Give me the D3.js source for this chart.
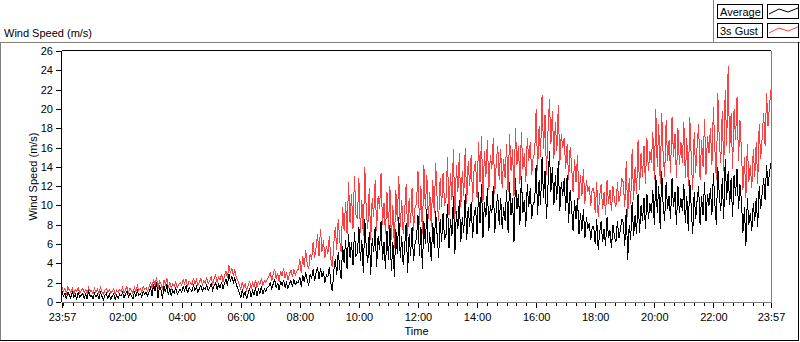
<!DOCTYPE html>
<html>
<head>
<meta charset="utf-8">
<script src="https://cdn.jsdelivr.net/npm/d3@7"></script>
<style>
body { margin: 0; background: #ffffff; }
svg { display: block; font-family: "Liberation Sans", Arial, sans-serif; font-size: 11px; }
.axis path { display: none; }
.axis line { stroke: #000000; shape-rendering: crispEdges; }
.axis text { fill: #000000; font-family: "Liberation Sans", Arial, sans-serif; font-size: 11px; }
</style>
</head>
<body>
<svg></svg>
<script>

// 3 minute samples from 23:57 to 23:57 next day (20 per hour, one row per hour)
var avgSpeed = [
    1.1,0.6,0.9,0.3,1.0,0.7,0.4,1.1,0.5,0.8,0.3,1.0,0.5,0.7,0.9,0.4,0.8,0.3,1.2,0.6,
    0.7,0.3,0.9,0.5,0.8,0.3,1.0,0.6,0.2,0.7,0.9,0.4,0.8,0.3,0.6,0.9,0.3,0.7,0.4,0.8,
    0.6,1.0,0.4,0.8,1.1,0.5,0.9,0.7,0.3,1.0,0.6,1.2,0.7,0.9,0.5,1.1,0.8,1.0,0.6,1.1,
    1.5,0.6,1.9,1.1,2.1,0.4,1.6,1.3,0.3,1.7,1.0,1.9,0.7,1.4,0.6,1.2,0.9,1.5,0.8,1.1,
    1.3,1.0,1.6,1.2,1.7,0.9,1.5,1.3,1.1,1.8,1.2,1.6,1.0,1.4,1.7,1.1,1.5,1.3,1.8,1.2,
    1.5,1.9,1.2,1.7,2.0,1.3,1.8,1.5,2.1,1.4,1.9,2.4,1.7,2.9,2.2,2.6,2.0,2.5,1.8,1.4,
    1.0,0.4,1.3,0.6,1.1,0.3,0.9,1.4,0.5,1.2,0.7,1.5,0.6,1.3,0.9,1.6,0.8,1.4,1.1,1.5,
    1.6,2.1,1.3,1.9,2.3,1.5,2.0,1.2,2.2,1.7,2.3,1.5,2.0,1.4,1.9,2.2,1.6,2.3,1.8,2.1,
    2.0,2.6,1.6,2.8,2.1,3.1,2.3,1.7,2.9,2.4,3.4,2.2,3.0,3.6,2.4,3.5,2.6,3.2,2.0,2.8,
    2.6,3.6,2.0,1.1,3.2,4.4,2.8,5.2,3.6,2.4,5.8,4.0,6.4,3.4,7.0,4.6,6.2,3.8,7.2,4.8,
    5.0,7.8,4.2,6.4,3.0,8.6,5.6,4.0,7.2,2.8,6.6,5.2,7.8,3.6,6.8,5.4,8.4,4.4,6.2,3.4,
    7.4,4.4,8.0,3.2,6.2,2.6,7.6,5.0,8.8,4.6,6.8,3.8,5.8,8.2,3.0,7.0,4.8,7.8,4.2,6.0,
    6.6,9.0,4.8,7.8,3.4,8.4,6.0,9.6,5.2,7.2,4.2,8.2,5.6,9.4,6.8,4.6,8.6,6.2,9.2,6.4,
    7.0,10.2,5.6,8.6,6.8,11.0,5.0,9.4,7.6,10.6,6.2,8.8,7.2,11.2,6.4,9.8,7.8,10.4,6.6,9.0,
    9.8,7.0,11.4,8.2,12.2,6.6,10.4,8.8,11.8,7.4,10.0,9.2,12.0,7.2,9.6,11.2,8.0,10.8,7.6,9.8,
    8.4,11.6,7.2,12.4,9.0,10.8,6.2,12.8,9.6,11.2,8.0,13.0,9.2,10.6,7.8,12.2,9.8,11.8,8.6,10.2,
    10.4,14.2,9.0,12.6,10.0,15.0,10.8,13.6,8.6,12.0,15.6,11.4,14.0,10.0,13.2,10.6,14.6,9.4,12.4,11.0,
    12.8,9.4,13.2,8.2,11.6,9.8,7.4,10.6,8.6,10.8,7.0,9.2,7.4,9.6,6.6,8.8,7.6,8.2,6.4,7.8,
    7.8,6.0,8.6,5.4,7.2,8.4,6.2,7.6,5.8,8.8,6.6,7.4,5.6,8.0,6.8,6.2,8.4,6.6,7.4,8.6,
    8.2,5.8,9.6,4.4,8.0,6.4,10.4,6.8,9.0,7.0,11.2,7.2,10.0,8.4,10.8,7.6,11.2,8.6,10.2,9.2,
    11.6,8.0,13.2,9.2,12.0,7.6,13.6,10.0,8.4,12.4,9.6,11.0,8.6,12.8,9.8,11.4,8.0,12.0,9.2,10.8,
    9.4,12.2,8.2,11.0,7.4,12.6,9.8,7.0,11.4,8.6,10.6,12.0,8.0,11.0,9.0,12.4,8.4,11.2,10.0,11.8,
    9.0,13.4,10.2,8.0,14.0,11.0,9.4,12.8,8.6,14.8,10.6,13.6,10.0,12.8,8.8,13.2,11.0,13.8,9.6,12.2,
    10.4,7.2,9.8,5.8,10.8,8.0,9.2,7.4,10.2,8.4,10.8,7.8,12.0,9.6,11.2,12.8,10.6,14.2,12.0,13.4,
    14.4
];

var gustSpeed = [
    1.5,1.1,1.4,0.9,1.6,1.2,1.0,1.4,0.8,1.3,1.1,1.5,0.9,1.2,1.4,1.0,1.3,0.9,1.5,1.1,
    1.2,0.8,1.4,1.0,1.3,0.9,1.5,1.1,0.8,1.2,1.4,1.0,1.3,0.9,1.1,1.4,0.8,1.2,1.0,1.3,
    1.1,1.5,0.9,1.3,1.6,1.0,1.4,1.2,0.9,1.5,1.1,1.7,1.2,1.4,1.0,1.6,1.3,1.5,1.1,1.6,
    2.0,1.4,2.4,1.7,2.6,1.3,2.2,1.9,1.2,2.3,1.8,2.5,1.5,2.0,1.4,1.9,1.6,2.1,1.5,1.8,
    2.0,1.7,2.3,1.9,2.4,1.6,2.2,2.0,1.8,2.5,1.9,2.3,1.7,2.1,2.4,1.8,2.2,2.0,2.5,1.9,
    2.2,2.6,1.9,2.4,2.8,2.0,2.6,2.3,2.9,2.1,2.7,3.2,2.5,3.8,3.0,3.5,2.8,3.3,2.6,2.2,
    1.8,1.3,2.1,1.5,1.9,1.2,1.7,2.2,1.4,2.0,1.6,2.3,1.5,2.1,1.8,2.5,1.7,2.2,2.0,2.4,
    2.6,3.1,2.2,2.9,3.4,2.4,3.0,2.1,3.2,2.7,3.5,2.5,3.1,2.3,2.9,3.3,2.6,3.4,2.8,3.2,
    3.4,4.4,3.0,4.8,3.6,5.4,4.0,3.4,5.0,4.4,6.2,4.6,5.6,7.0,4.8,7.6,5.2,6.4,4.6,5.8,
    5.0,6.8,4.4,3.6,6.0,7.8,5.4,8.6,6.4,5.2,9.8,7.4,10.4,7.0,12.4,8.2,11.2,7.6,13.0,9.0,
    8.6,12.8,7.2,10.6,6.8,14.0,9.4,7.6,11.8,6.4,10.8,8.8,12.6,7.4,11.0,9.6,13.4,8.0,10.2,7.0,
    11.4,7.6,12.0,6.4,10.0,5.6,11.6,8.4,13.0,7.8,10.6,7.0,9.4,12.2,6.8,10.8,8.2,11.8,7.4,9.8,
    10.2,13.6,8.0,12.0,7.0,14.2,9.6,13.2,8.6,11.4,7.8,12.6,9.2,14.4,10.6,8.4,12.8,9.8,13.4,10.0,
    10.8,15.0,9.0,13.4,10.6,15.8,8.6,14.2,11.4,15.4,9.8,13.6,11.0,16.0,10.2,14.6,12.0,15.2,10.4,13.8,
    14.6,10.8,16.6,12.4,17.2,10.4,15.6,13.0,16.8,11.6,15.2,13.8,17.0,11.2,14.4,16.2,12.6,15.8,11.8,14.8,
    12.8,16.4,11.4,17.4,13.6,15.8,11.0,18.0,14.2,16.2,12.2,17.6,13.8,15.4,12.4,17.0,14.6,16.6,13.2,15.0,
    15.4,20.0,13.6,18.2,15.0,21.4,15.8,19.4,13.2,17.6,21.0,16.4,19.8,14.8,18.6,15.6,20.4,14.2,17.4,16.0,
    17.0,13.8,16.4,12.6,16.0,14.2,11.4,14.8,12.4,15.2,10.6,13.2,11.0,13.8,10.2,12.6,11.4,12.0,10.0,11.8,
    11.8,9.2,12.4,8.8,11.0,12.2,9.6,11.4,9.0,12.6,10.2,11.6,9.4,12.0,10.6,9.8,12.4,10.4,11.2,12.8,
    12.4,9.8,14.6,8.8,12.8,10.2,15.8,10.6,14.0,11.2,16.8,11.6,15.4,13.0,16.2,12.2,17.0,13.6,15.6,14.4,
    17.6,12.6,20.0,14.0,18.4,12.2,19.6,15.2,13.0,18.8,14.6,16.8,13.4,19.2,15.0,17.4,12.8,18.0,14.2,16.6,
    14.4,18.6,12.8,17.0,12.0,19.2,15.0,11.6,17.6,13.4,16.2,18.4,12.6,16.8,14.0,19.0,13.2,17.2,15.4,18.0,
    14.2,20.2,15.8,12.6,21.6,16.6,14.4,19.8,13.6,22.0,16.2,24.4,15.4,19.6,13.8,20.0,16.8,21.2,14.6,18.8,
    15.6,11.6,15.0,10.8,16.4,12.4,14.2,11.8,15.8,13.0,16.6,12.2,18.4,14.8,17.0,19.6,16.2,21.6,18.2,20.4,
    22.0
];

var seriesNames = ["Average", "3s Gust"];
var seriesColors = ["#000000", "#ff3f3f"];
var yTicks = [0,2,4,6,8,10,12,14,16,18,20,22,24,26];
var startTime = new Date(2020, 0, 1, 23, 57);
var endTime = new Date(2020, 0, 2, 23, 57);
var stepMinutes = 3;

var width = 800, height = 342;
var margin = { top: 51, right: 29, bottom: 40, left: 62 };
var chartWidth = width - margin.left - margin.right,
    chartHeight = height - margin.top - margin.bottom;

var svg = d3.select('svg').attr('width', width).attr('height', height);

var x = d3.scaleTime().range([0, chartWidth]).domain([startTime, endTime]);
var y = d3.scaleLinear().range([chartHeight, 0]).domain([0, 26]);

var fmt = d3.timeFormat("%H:%M");

// panel frames
svg.append('line').attr('x1', 0).attr('x2', width).attr('y1', 42.5).attr('y2', 42.5)
    .attr('stroke', '#808080').attr('shape-rendering', 'crispEdges');
svg.append('line').attr('x1', 0.5).attr('x2', 0.5).attr('y1', 42).attr('y2', 341)
    .attr('stroke', '#808080').attr('shape-rendering', 'crispEdges');
svg.append('line').attr('x1', 0).attr('x2', 799).attr('y1', 340.5).attr('y2', 340.5)
    .attr('stroke', '#000000').attr('shape-rendering', 'crispEdges');
svg.append('line').attr('x1', 798.5).attr('x2', 798.5).attr('y1', 42).attr('y2', 341)
    .attr('stroke', '#000000').attr('shape-rendering', 'crispEdges');
svg.append('line').attr('x1', 713.5).attr('x2', 713.5).attr('y1', 0).attr('y2', 42)
    .attr('stroke', '#808080').attr('shape-rendering', 'crispEdges');

svg.append('text').attr('x', 4).attr('y', 37).text('Wind Speed (m/s)');

var g = svg.append('g').attr('transform', 'translate(' + margin.left + ',' + margin.top + ')');

// data lines
var makeLine = function(values)
{
    return d3.line()
        .x(function(d, i) { return x(d3.timeMinute.offset(startTime, i*stepMinutes)); })
        .y(function(d) { return y(d); })(values);
}

g.append('path').attr('d', makeLine(gustSpeed))
    .attr('fill', 'none').attr('stroke', seriesColors[1]).attr('stroke-width', 1)
    .attr('shape-rendering', 'crispEdges');
g.append('path').attr('d', makeLine(avgSpeed))
    .attr('fill', 'none').attr('stroke', seriesColors[0]).attr('stroke-width', 1)
    .attr('shape-rendering', 'crispEdges');

// plot frame: black top/left, gray bottom/right
g.append('line').attr('x1', -0.5).attr('x2', chartWidth).attr('y1', -0.5).attr('y2', -0.5)
    .attr('stroke', '#000000').attr('shape-rendering', 'crispEdges');
g.append('line').attr('x1', -0.5).attr('x2', -0.5).attr('y1', -0.5).attr('y2', chartHeight)
    .attr('stroke', '#000000').attr('shape-rendering', 'crispEdges');
g.append('line').attr('x1', -0.5).attr('x2', chartWidth + 1).attr('y1', chartHeight + 0.5).attr('y2', chartHeight + 0.5)
    .attr('stroke', '#808080').attr('shape-rendering', 'crispEdges');
g.append('line').attr('x1', chartWidth + 0.5).attr('x2', chartWidth + 0.5).attr('y1', -0.5).attr('y2', chartHeight + 1)
    .attr('stroke', '#808080').attr('shape-rendering', 'crispEdges');

// axes
var yAxis = g.append('g').attr('class', 'axis')
    .attr('transform', 'translate(-1,0)')
    .call(d3.axisLeft(y).tickValues(yTicks).tickSize(5).tickPadding(3).tickSizeOuter(0));

var minorTicks = d3.timeMinute.every(20).range(d3.timeMinute.offset(startTime, 3), endTime);
var majorTicks = [startTime].concat(d3.timeHour.every(2).range(d3.timeHour.offset(startTime, 1), endTime)).concat([endTime]);
majorTicks = majorTicks.filter(function(d) { return d.getHours() !== 0 || d.getMinutes() !== 0; });

var xMinor = g.append('g').attr('class', 'axis')
    .attr('transform', 'translate(0,' + (chartHeight + 1) + ')')
    .call(d3.axisBottom(x).tickValues(minorTicks).tickSize(3).tickFormat("").tickSizeOuter(0));
var xAxis = g.append('g').attr('class', 'axis')
    .attr('transform', 'translate(0,' + (chartHeight + 1) + ')')
    .call(d3.axisBottom(x).tickValues(majorTicks).tickSize(5).tickPadding(5).tickFormat(fmt).tickSizeOuter(0));

svg.append('text')
    .attr('x', margin.left + chartWidth/2.).attr('y', 335)
    .style('text-anchor', 'middle').text('Time');

svg.append('text')
    .attr('transform', 'rotate(-90)')
    .attr('x', -(margin.top + chartHeight/2.)).attr('y', 37)
    .style('text-anchor', 'middle').text('Wind Speed (m/s)');

// legend
var samples = [[0, 9], [10, 4], [19, 7], [29, 3]];
seriesNames.forEach(function(name, i)
{
    var ly = 4 + i*19;
    var lg = svg.append('g').attr('transform', 'translate(717,' + ly + ')');
    lg.append('rect').attr('x', 0.5).attr('y', 0.5).attr('width', 45).attr('height', 14)
        .attr('fill', '#ffffff').attr('stroke', '#000000').attr('shape-rendering', 'crispEdges');
    lg.append('text').attr('x', 3).attr('y', 12).text(name);
    lg.append('rect').attr('x', 50.5).attr('y', 0.5).attr('width', 31).attr('height', 14)
        .attr('fill', '#ffffff').attr('stroke', '#000000').attr('shape-rendering', 'crispEdges');
    lg.append('path')
        .attr('d', d3.line().x(function(d) { return 52 + d[0]; }).y(function(d) { return d[1] + 1; })(samples))
        .attr('fill', 'none').attr('stroke', seriesColors[i]).attr('stroke-width', 1);
});

</script>
</body>
</html>
